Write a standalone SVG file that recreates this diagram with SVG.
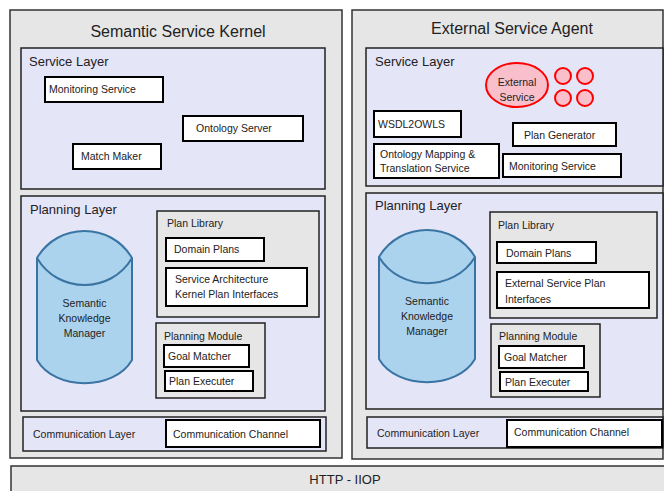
<svg xmlns="http://www.w3.org/2000/svg" width="664" height="491" viewBox="0 0 664 491">
<style>
text{font-family:"Liberation Sans",Arial,sans-serif;fill:#222}
.outer{fill:#e6e6e6;stroke:#333;stroke-width:1.5}
.layer{fill:#e5e5f8;stroke:#222;stroke-width:1.5}
.grp{fill:#e6e6e6;stroke:#222;stroke-width:1.5}
.box{fill:#fff;stroke:#000;stroke-width:2}
.cyl{fill:#acd3ee;stroke:#3a74a3;stroke-width:2}
.red{fill:#f9c0cb;stroke:#f00;stroke-width:2}
.t16{font-size:16px}
.t13{font-size:13px}
.t10{font-size:10.5px}
.mid{text-anchor:middle}
</style>
<g id="kernel">
<rect class="outer" x="10" y="10" width="332" height="448"/>
<text class="t16 mid" x="178" y="37">Semantic Service Kernel</text>
</g>
<g id="kernel-service-layer">
<rect class="layer" x="21" y="48" width="304" height="141"/>
<text class="t13" x="29" y="66">Service Layer</text>
</g>
<g id="k-monitoring"><rect class="box" x="45" y="77" width="118" height="25"/><text class="t10" x="49" y="93">Monitoring Service</text></g>
<g id="k-ontology"><rect class="box" x="183" y="116" width="120" height="25"/><text class="t10" x="196" y="132">Ontology Server</text></g>
<g id="k-matchmaker"><rect class="box" x="73" y="144" width="88" height="25"/><text class="t10" x="81" y="160">Match Maker</text></g>
<g id="kernel-planning-layer">
<rect class="layer" x="21" y="196" width="304" height="215"/>
<text class="t13" x="30" y="214">Planning Layer</text>
</g>
<g id="k-skm">
<path class="cyl" d="M37,258 C58,222 111,222 132,258 L132,360 C114,391 55,391 37,360 Z"/>
<path class="cyl" d="M37,258 C58,294 111,294 132,258" style="fill:none"/>
<text class="t10 mid" x="84.5" y="307">Semantic</text>
<text class="t10 mid" x="84.5" y="322">Knowledge</text>
<text class="t10 mid" x="84.5" y="337">Manager</text>
</g>
<g id="k-planlib">
<rect class="grp" x="157" y="211" width="162" height="106"/>
<text class="t10" x="167" y="227">Plan Library</text>
</g>
<g id="k-domain"><rect class="box" x="166" y="238" width="98" height="23"/><text class="t10" x="174" y="253">Domain Plans</text></g>
<g id="k-sakpi"><rect class="box" x="166" y="268" width="141" height="38"/><text class="t10" x="175" y="283">Service Architecture</text><text class="t10" x="175" y="298">Kernel Plan Interfaces</text></g>
<g id="k-planmod">
<rect class="grp" x="156" y="323" width="109" height="75"/>
<text class="t10" x="164" y="340">Planning Module</text>
</g>
<g id="k-goal"><rect class="box" x="164" y="345" width="85" height="22"/><text class="t10" x="168" y="360">Goal Matcher</text></g>
<g id="k-exec"><rect class="box" x="165" y="371" width="88" height="20"/><text class="t10" x="169" y="385">Plan Executer</text></g>
<g id="kernel-comm-layer">
<rect class="layer" x="23" y="417" width="303" height="34"/>
<text class="t10" x="33" y="438">Communication Layer</text>
</g>
<g id="k-channel"><rect class="box" x="166" y="420" width="154" height="27"/><text class="t10" x="173" y="438">Communication Channel</text></g>

<g id="agent">
<rect class="outer" x="352" y="10" width="311" height="449"/>
<text class="t16 mid" x="512" y="34">External Service Agent</text>
</g>
<g id="agent-service-layer">
<rect class="layer" x="366" y="48" width="297" height="138"/>
<text class="t13" x="375" y="66">Service Layer</text>
</g>
<g id="a-external">
<ellipse class="red" cx="517" cy="85" rx="31" ry="22"/>
<text class="t10 mid" x="517" y="86">External</text>
<text class="t10 mid" x="517" y="101">Service</text>
<circle class="red" cx="563" cy="76" r="8"/>
<circle class="red" cx="585" cy="76" r="8"/>
<circle class="red" cx="563" cy="98" r="8"/>
<circle class="red" cx="585" cy="98" r="8"/>
</g>
<g id="a-wsdl"><rect class="box" x="374" y="111" width="87" height="26"/><text class="t10" x="378" y="128">WSDL2OWLS</text></g>
<g id="a-plangen"><rect class="box" x="513" y="123" width="103" height="23"/><text class="t10" x="524" y="139">Plan Generator</text></g>
<g id="a-ontmap"><rect class="box" x="374" y="144" width="125" height="34"/><text class="t10" x="380" y="158">Ontology Mapping &amp;</text><text class="t10" x="380" y="172">Translation Service</text></g>
<g id="a-monitoring"><rect class="box" x="503" y="154" width="118" height="23"/><text class="t10" x="509" y="170">Monitoring Service</text></g>
<g id="agent-planning-layer">
<rect class="layer" x="366" y="193" width="297" height="216"/>
<text class="t13" x="375" y="210">Planning Layer</text>
</g>
<g id="a-skm">
<path class="cyl" d="M379,257 C400,221 454,221 475,257 L475,359 C457,390 397,390 379,359 Z"/>
<path class="cyl" d="M379,257 C400,292 454,292 475,257" style="fill:none"/>
<text class="t10 mid" x="427" y="305">Semantic</text>
<text class="t10 mid" x="427" y="320">Knowledge</text>
<text class="t10 mid" x="427" y="335">Manager</text>
</g>
<g id="a-planlib">
<rect class="grp" x="490" y="212" width="167" height="106"/>
<text class="t10" x="498" y="229">Plan Library</text>
</g>
<g id="a-domain"><rect class="box" x="497" y="242" width="99" height="21"/><text class="t10" x="506" y="257">Domain Plans</text></g>
<g id="a-espi"><rect class="box" x="497" y="272" width="152" height="36"/><text class="t10" x="505" y="287">External Service Plan</text><text class="t10" x="505" y="303">Interfaces</text></g>
<g id="a-planmod">
<rect class="grp" x="491" y="324" width="109" height="73"/>
<text class="t10" x="499" y="340">Planning Module</text>
</g>
<g id="a-goal"><rect class="box" x="499" y="346" width="85" height="22"/><text class="t10" x="504" y="361">Goal Matcher</text></g>
<g id="a-exec"><rect class="box" x="500" y="372" width="88" height="19"/><text class="t10" x="505" y="386">Plan Executer</text></g>
<g id="agent-comm-layer">
<rect class="layer" x="367" y="417" width="296" height="31"/>
<text class="t10" x="377" y="437">Communication Layer</text>
</g>
<g id="a-channel"><rect class="box" x="507" y="420" width="155" height="27"/><text class="t10" x="514" y="436">Communication Channel</text></g>

<g id="http">
<rect class="outer" x="11" y="466" width="660" height="30"/>
<text class="t13 mid" x="345" y="484">HTTP - IIOP</text>
</g>
<g id="connectors"></g>
</svg>
